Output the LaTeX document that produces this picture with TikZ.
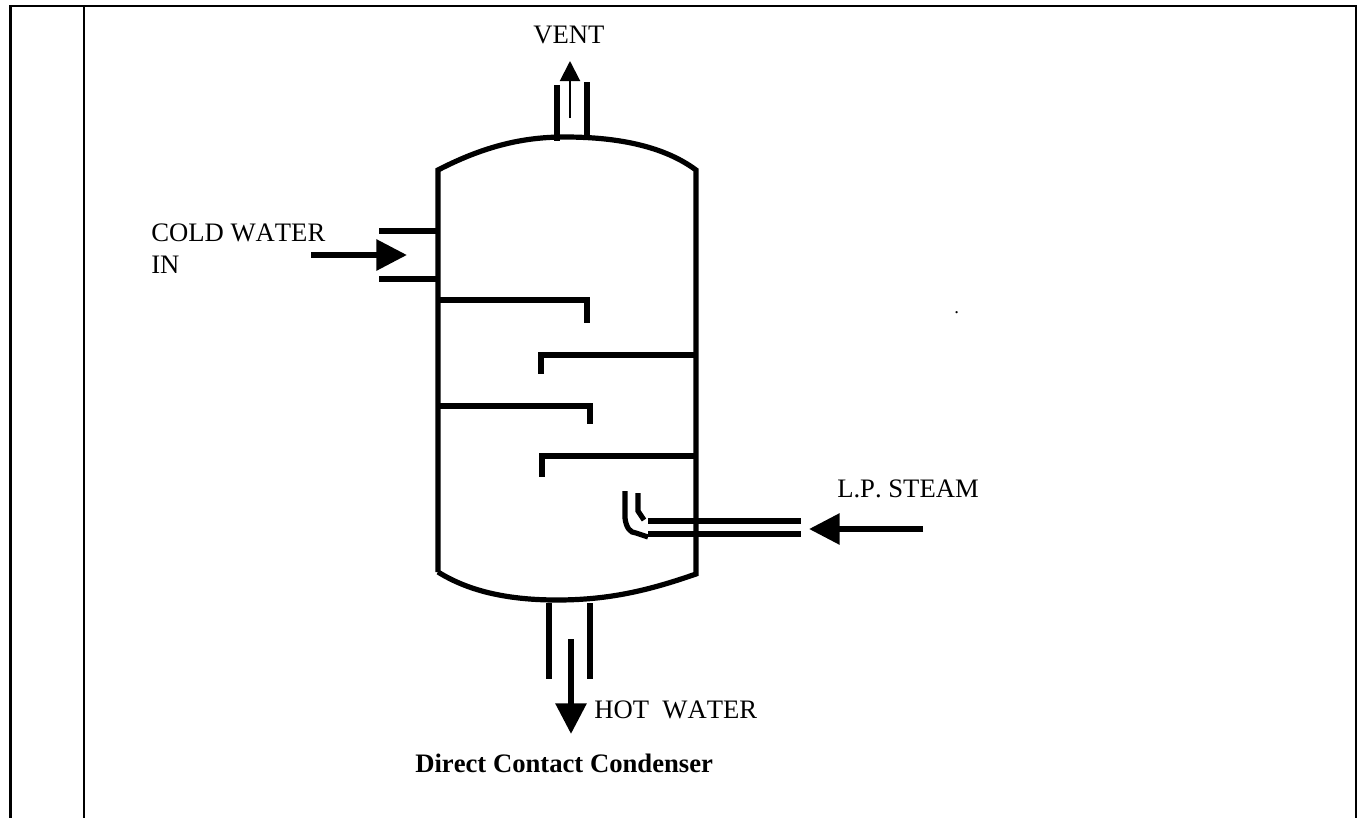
\documentclass[tikz,border=0pt]{standalone}
\usepackage{fontspec}
\setmainfont[Kerning=Off]{Liberation Serif}
\usetikzlibrary{arrows.meta}

\begin{document}
\begin{tikzpicture}[x=0.75pt, y=-0.75pt,
		frameLine/.style={line width=1.7pt},
		shellLine/.style={line width=3.9pt},
		pipeLine/.style={line width=4.5pt},
		thinPipe/.style={line width=3.9pt},
		bigArrow/.style={line width=4.5pt, -{Triangle[length=23pt, width=22.5pt]}},
		ventArrow/.style={line width=1.5pt, -{Triangle[length=15pt, width=15pt]}},
		streamText/.style={inner sep=0pt, anchor=base west, align=left, font=\fontsize{20}{24}\selectfont},
		titleText/.style={inner sep=0pt, anchor=base west, font=\fontsize{20}{24}\selectfont\bfseries},
		dotText/.style={inner sep=0pt, anchor=base west, font=\fontsize{14}{16}\selectfont}]
		\useasboundingbox (0,0) rectangle (1361,818);

		% page frame
		\draw[frameLine] (10.5,818) -- (10.5,6) -- (1356,6) -- (1356,818);
		\draw[frameLine] (84,6) -- (84,818);

		% vessel shell
		\draw[shellLine] (438,572) -- (438,170) .. controls (490,143) and (530,137) .. (565,137) .. controls (620,137) and (665,147) .. (696,170) -- (696,574) .. controls (650,590) and (610,600) .. (557,600) .. controls (510,600) and (470,592) .. (438,572);

		% baffles
		\draw[shellLine] (438,300) -- (587,300) -- (587,323);
		\draw[shellLine] (696,355) -- (541,355) -- (541,374);
		\draw[shellLine] (438,406) -- (590,406) -- (590,424);
		\draw[shellLine] (696,456) -- (542,456) -- (542,477);

		% nozzles
		\draw[pipeLine] (557,85) -- (557,141);
		\draw[pipeLine] (587,82) -- (587,138);
		\draw[pipeLine] (379,231) -- (438,231);
		\draw[pipeLine] (379,279) -- (438,279);
		\draw[pipeLine] (549,603) -- (549,679);
		\draw[pipeLine] (590,603) -- (590,679);

		% steam pipe
		\draw[pipeLine] (648,521) -- (801,521);
		\draw[pipeLine] (648,534) -- (801,534);
		\draw[thinPipe] (638,493) -- (638,511) -- (644,520);
		\draw[thinPipe] (625,491) -- (625,518) .. controls (626,527) and (630,533) .. (636,533) -- (648,537);

		% stream ends
		\coordinate (ventStart) at (570,118);
		\coordinate (ventEnd) at (570,61);
		\coordinate (coldStart) at (311,255);
		\coordinate (coldEnd) at (407,255);
		\coordinate (steamStart) at (923,529);
		\coordinate (steamEnd) at (809,529);
		\coordinate (hotStart) at (571,639);
		\coordinate (hotEnd) at (571,734);

		% draw stream arrows
		\draw[ventArrow] (ventStart) -- (ventEnd);
		\draw[bigArrow] (coldStart) -- (coldEnd);
		\draw[bigArrow] (steamStart) -- (steamEnd);
		\draw[bigArrow] (hotStart) -- (hotEnd);

		% labels
		\node[streamText](ventLabel) at (533,43){VENT};
		\node[streamText](coldLabel) at (151,273){COLD WATER\\IN};
		\node[streamText](steamLabel) at (837,497){L.P. STEAM};
		\node[streamText](hotLabel) at (594,718){HOT\ \ WATER};
		\node[titleText](titleLabel) at (415,772){Direct Contact Condenser};
		\node[dotText](dotLabel) at (954,313){.};
\end{tikzpicture}
\end{document}
